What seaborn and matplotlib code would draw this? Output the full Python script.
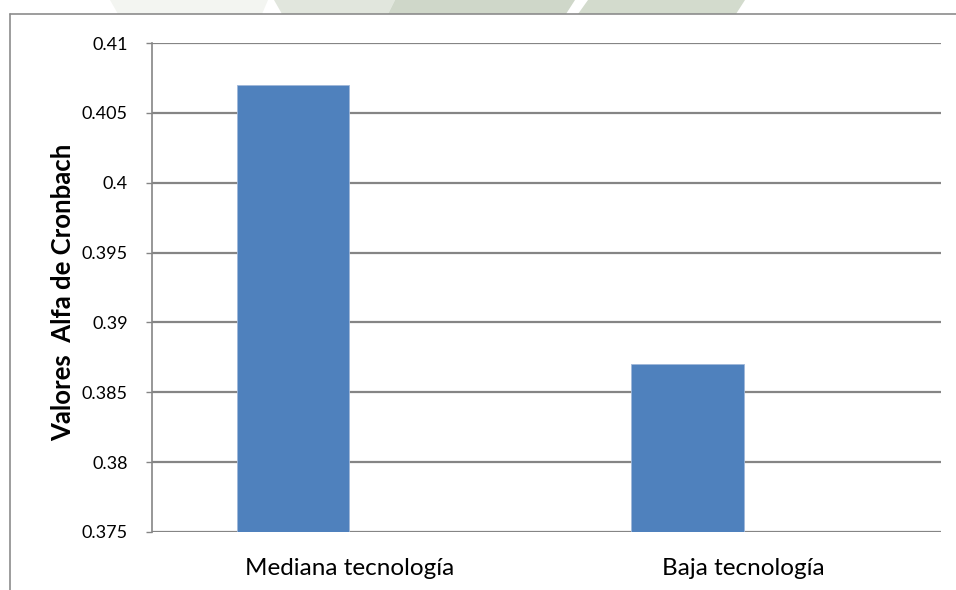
import matplotlib
matplotlib.use("Agg")
import matplotlib.pyplot as plt
from matplotlib.lines import Line2D
from matplotlib.patches import Polygon
import seaborn as sns
import pandas as pd

# Reliability (Cronbach's alpha) by technology level
categories = ["Mediana tecnología", "Baja tecnología"]
alfa_values = [0.407, 0.387]
series_names = ["Alfa de Cronbach", "Serie 2"]  # second slot kept empty, as in the original sheet
y_ticks = [0.375, 0.38, 0.385, 0.39, 0.395, 0.4, 0.405, 0.41]
y_tick_labels = ["0.375", "0.38", "0.385", "0.39", "0.395", "0.4", "0.405", "0.41"]
y_label = "Valores  Alfa de Cronbach"

sns.set_theme(style="white")
plt.rcParams["font.family"] = ["Lato", "DejaVu Sans"]

W, H = 956, 590
fig = plt.figure(figsize=(W / 100, H / 100), dpi=100)
fig.patch.set_facecolor("white")


def px(x, y):
    """Pixel position (from top-left) to figure fraction."""
    return (x / W, 1 - y / H)


# faint document watermark showing above the chart frame
for pts, col in [
    ([(110, 0), (268, 0), (262, 14), (118, 14)], "#f3f5f1"),
    ([(274, 0), (395, 0), (388, 14), (282, 14)], "#e1e6dd"),
    ([(395, 0), (575, 0), (566, 14), (388, 14)], "#cfd7c9"),
    ([(588, 0), (745, 0), (736, 14), (578, 14)], "#d3dbcd"),
]:
    fig.patches.append(Polygon([px(*p) for p in pts], closed=True,
                               transform=fig.transFigure, facecolor=col,
                               edgecolor="none", zorder=0))

# chart-area frame (top and left edges visible)
frame_col = "#8c8c8c"
fig.add_artist(Line2D([10 / W, 1], [1 - 14 / H, 1 - 14 / H], transform=fig.transFigure,
                      color=frame_col, lw=1.2))
fig.add_artist(Line2D([10 / W, 10 / W], [0, 1 - 14 / H], transform=fig.transFigure,
                      color=frame_col, lw=1.2))

ax = fig.add_axes([152 / W, (H - 532) / H, (941 - 152) / W, (532 - 43) / H])
ax.set_facecolor("white")

df = pd.DataFrame({
    "categoria": categories,
    "alfa": alfa_values,
    "serie": [series_names[0]] * len(categories),
})

sns.barplot(data=df, x="categoria", y="alfa", hue="serie", hue_order=series_names,
            order=categories, palette=["#4f81bd", "#c0504d"], saturation=1,
            width=0.571, dodge=True, legend=False, errorbar=None, ax=ax,
            edgecolor="#9fb7d9", linewidth=0.6, zorder=3)

ax.set_ylim(y_ticks[0], y_ticks[-1])
ax.set_xlim(-0.5, len(categories) - 0.5)
ax.set_yticks(y_ticks)
ax.set_yticklabels(y_tick_labels)

grid_col = "#858585"
for t in y_ticks:
    ax.axhline(t, color=grid_col, lw=1.6, zorder=1)

for s in ["top", "right", "bottom"]:
    ax.spines[s].set_visible(False)
ax.spines["left"].set_color(grid_col)
ax.spines["left"].set_linewidth(1.2)

ax.tick_params(axis="y", which="major", direction="out", length=4.3, width=1.0,
               color=grid_col, pad=13, labelsize=13, labelcolor="#000000", left=True)
ax.tick_params(axis="x", length=0, pad=19, labelsize=17.5, labelcolor="#000000")

ax.set_xlabel("")
ax.set_ylabel(y_label, fontsize=18.5, fontweight="bold", color="#000000")
ax.yaxis.set_label_coords(-0.097, 0.49)

fig.savefig("out.png", dpi=100, facecolor="white")
